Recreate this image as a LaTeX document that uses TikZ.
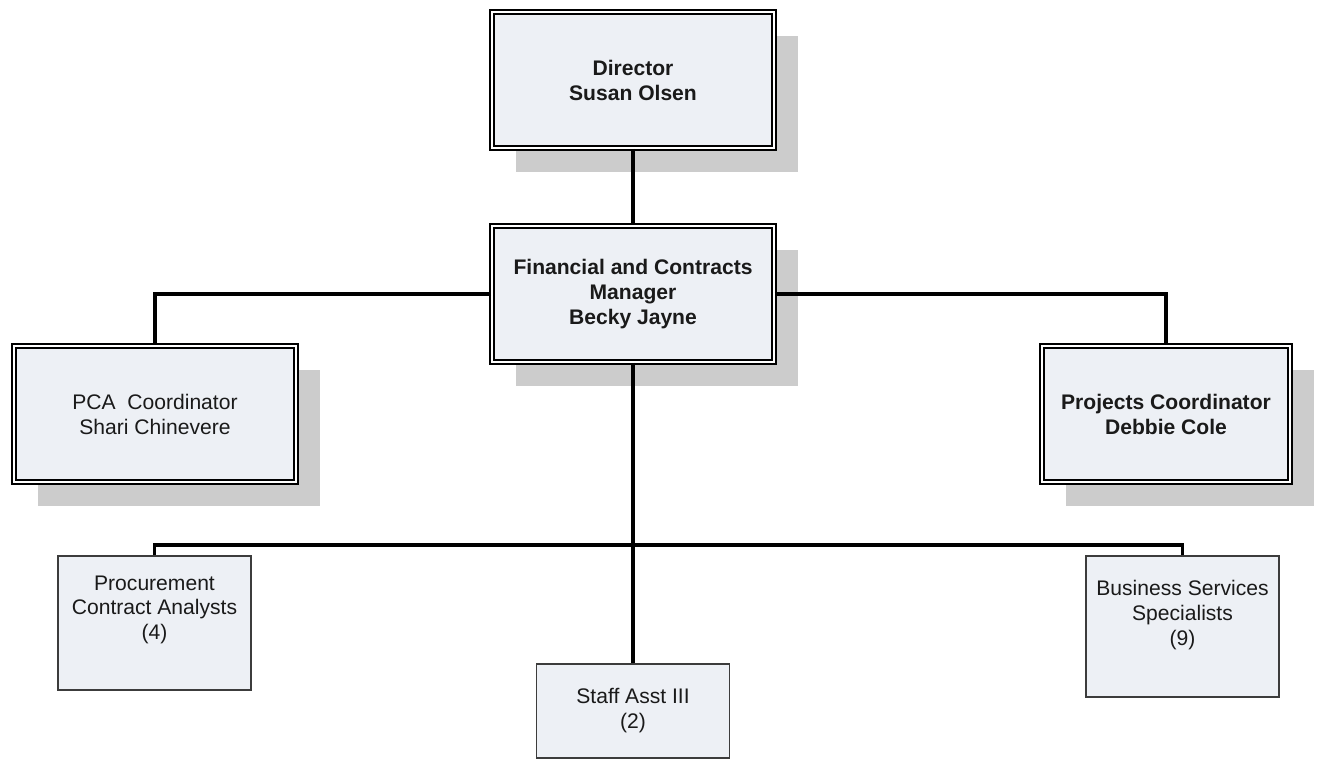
\documentclass[tikz,border=0pt]{standalone}
\usepackage{fontspec}
\setmainfont{Liberation Sans}
\usepackage{tikz}
\usetikzlibrary{positioning,shadows}
\definecolor{ink}{HTML}{1A1A1A}
\definecolor{boxfill}{HTML}{EDF0F5}
\definecolor{shade}{HTML}{CCCCCC}
\tikzset{
  every node/.style={font=\fontsize{12}{14.2}\selectfont,text=ink},
  post/.style={draw=black,line width=1.1pt,double=white,double distance=1.1pt,fill=boxfill,align=center,
    minimum width=5.64cm,minimum height=2.72cm,
    drop shadow={shadow xshift=0.48cm,shadow yshift=-0.48cm,fill=shade,opacity=1}},
  headpost/.style={post,font=\fontsize{12}{14.2}\selectfont\bfseries},
  unit/.style={draw=ink!85,line width=0.9pt,fill=boxfill,align=center,inner sep=0pt},
  link/.style={draw=black,line width=2.1pt}
}

\begin{document}
\begin{tikzpicture}[x=0.02cm,y=-0.02cm]
  \useasboundingbox (0,0) rectangle (1318,760);

  \node[headpost] (director) at (633,80) {Director\\Susan Olsen};
  \node[headpost] (manager) at (633,294) {Financial and Contracts\\Manager\\Becky Jayne};
  \node[post] (pca) at (155,414) {PCA~ Coordinator\\Shari Chinevere};
  \node[headpost,minimum width=4.96cm] (projects) at (1166,414) {Projects Coordinator\\Debbie Cole};

  \node[unit] (procure) at (154.5,623) {\parbox[c][2.68cm][t]{3.86cm}{\centering\vspace*{0.39cm}Procurement\\Contract Analysts\\(4)}};
  \node[unit,minimum width=3.86cm,minimum height=1.88cm] (staffasst) at (633,711) {Staff Asst III\\(2)};
  \node[unit] (business) at (1182.5,626.5) {\parbox[c][2.82cm][t]{3.86cm}{\centering\vspace*{0.49cm}Business Services\\Specialists\\(9)}};

  \coordinate (bar) at (633,545);

  \draw[link] (director) -- (manager);
  \draw[link] (manager.west) -| (pca.north);
  \draw[link] (manager.east) -| (projects.north);
  \draw[link] (manager) -- (staffasst);
  \draw[link] (procure.north) |- (bar) -| (business.north);
\end{tikzpicture}
\end{document}
